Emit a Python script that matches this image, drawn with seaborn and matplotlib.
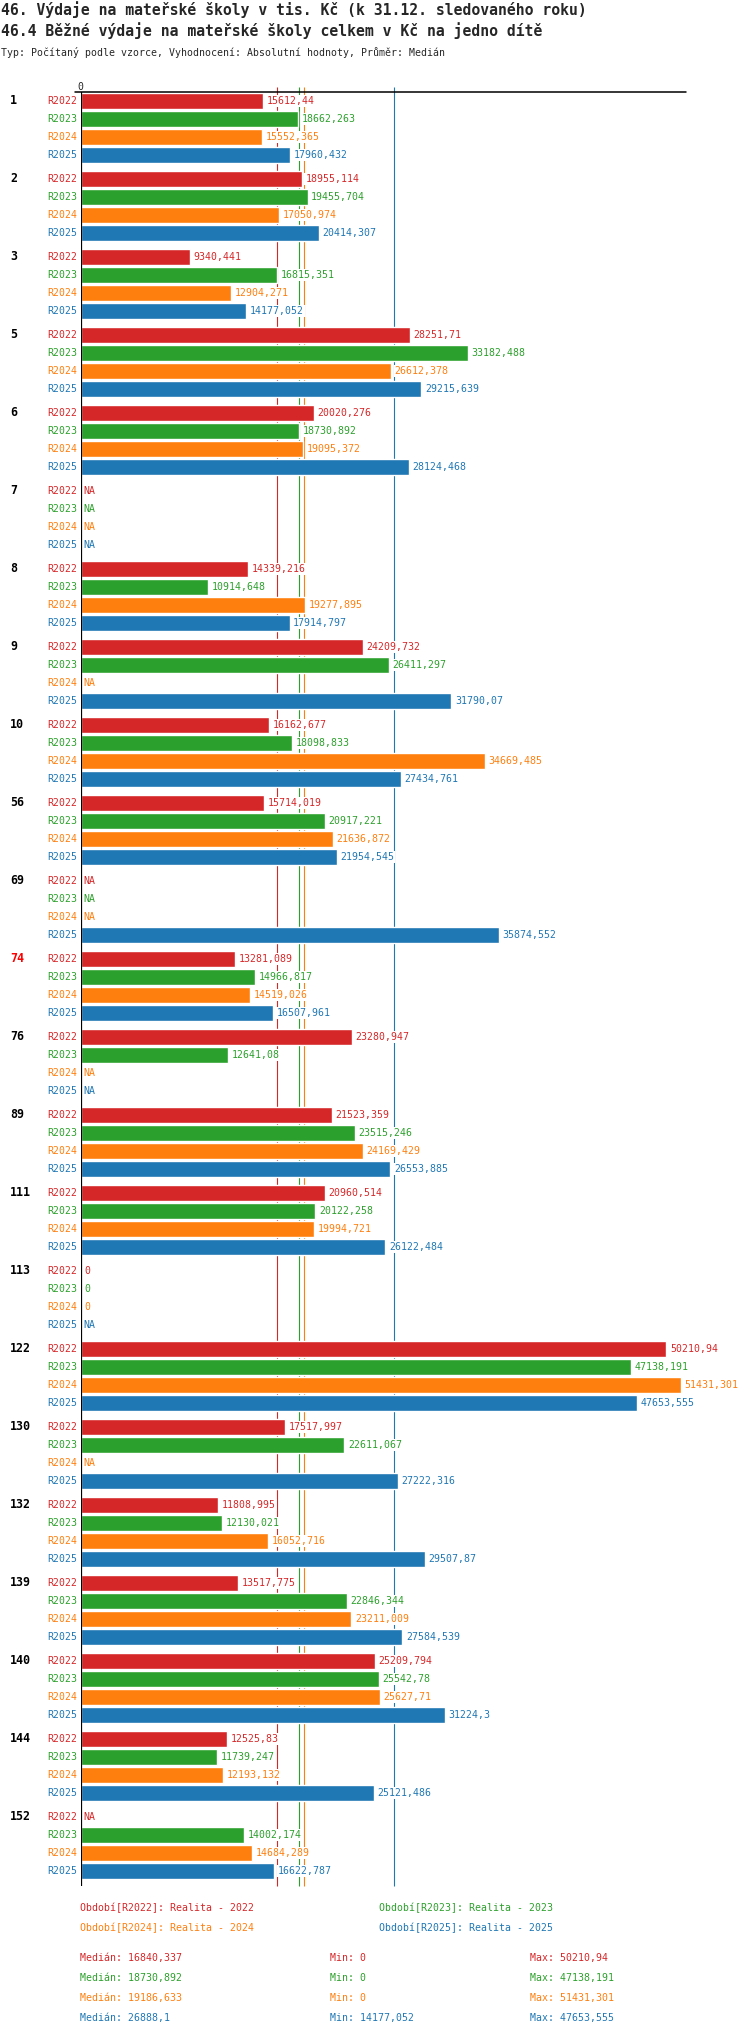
import numpy as np
import pandas as pd
import matplotlib
matplotlib.use("Agg")
import matplotlib.pyplot as plt
import seaborn as sns

nan = np.nan

# school ids (group labels), one block of 4 periods each
groups = ['1', '2', '3', '5', '6', '7', '8', '9', '10', '56', '69', '74', '76', '89',
          '111', '113', '122', '130', '132', '139', '140', '144', '152']
periods = ['R2022', 'R2023', 'R2024', 'R2025']

r2022 = [15612.44, 18955.114, 9340.441, 28251.71, 20020.276, nan, 14339.216, 24209.732,
         16162.677, 15714.019, nan, 13281.089, 23280.947, 21523.359, 20960.514, 0,
         50210.94, 17517.997, 11808.995, 13517.775, 25209.794, 12525.83, nan]
r2023 = [18662.263, 19455.704, 16815.351, 33182.488, 18730.892, nan, 10914.648, 26411.297,
         18098.833, 20917.221, nan, 14966.817, 12641.08, 23515.246, 20122.258, 0,
         47138.191, 22611.067, 12130.021, 22846.344, 25542.78, 11739.247, 14002.174]
r2024 = [15552.365, 17050.974, 12904.271, 26612.378, 19095.372, nan, 19277.895, nan,
         34669.485, 21636.872, nan, 14519.026, nan, 24169.429, 19994.721, 0,
         51431.301, nan, 16052.716, 23211.009, 25627.71, 12193.132, 14684.289]
r2025 = [17960.432, 20414.307, 14177.052, 29215.639, 28124.468, nan, 17914.797, 31790.07,
         27434.761, 21954.545, 35874.552, 16507.961, nan, 26553.885, 26122.484, nan,
         47653.555, 27222.316, 29507.87, 27584.539, 31224.3, 25121.486, 16622.787]

# summary values shown under the chart
medians = [16840.337, 18730.892, 19186.633, 26888.1]
mins = [0, 0, 0, 14177.052]
maxs = [50210.94, 47138.191, 51431.301, 47653.555]

colors = ['#d62728', '#2ca02c', '#ff7f0e', '#1f77b4']
highlight = '74'

series = [r2022, r2023, r2024, r2025]


def fmt(v):
    if np.isnan(v):
        return 'NA'
    s = f"{v:.3f}".rstrip('0').rstrip('.')
    return s.replace('.', ',')


# layout in pixels (1 y-unit == 1 pixel)
ROW = 18
GROUP = 78
rows = []
for gi, g in enumerate(groups):
    for pi, p in enumerate(periods):
        rows.append({'group': g, 'period': p, 'pos': gi * GROUP + pi * ROW,
                     'value': series[pi][gi]})
df = pd.DataFrame(rows)

sns.set_style('white')
plt.rcParams['font.family'] = ['DejaVu Sans Mono', 'DejaVu Sans']

W, H = 750, 2036
fig = plt.figure(figsize=(W / 100, H / 100), dpi=100)
left_px, right_px, top_px, bot_px = 80.5, 686, 91.5, 1886
ax = fig.add_axes([left_px / W, 1 - bot_px / H, (right_px - left_px) / W, (bot_px - top_px) / H])

sns.barplot(data=df, x='value', y='pos', hue='period', orient='y', native_scale=True,
            dodge=False, width=16 / 18, palette=dict(zip(periods, colors)),
            errorbar=None, legend=False, saturation=1, ax=ax, zorder=2)

ymin, ymax = -9.2, 1785.3
ax.set_ylim(ymax, ymin)
ax.set_xlim(0, 51885)
ax.set_xticks([])
ax.set_yticks([])
ax.set_xlabel('')
ax.set_ylabel('')
for s in ax.spines.values():
    s.set_visible(False)

# median lines behind bars
for m, c in zip(medians, colors):
    ax.vlines(m, ymin - 4.5, ymax, color=c, lw=0.8, zorder=0.5, clip_on=False)

ax.axvline(0, color='black', lw=1.6, zorder=4)
ax.plot([(75 - left_px) / (right_px - left_px), 1], [1, 1], color='black', lw=1.1,
        transform=ax.transAxes, clip_on=False, zorder=4)
ax.text(0, 1.0, '0', transform=ax.transAxes, ha='center', va='bottom', fontsize=7.1)

ytr = ax.get_yaxis_transform()
axw = right_px - left_px
for gi, g in enumerate(groups):
    y0 = gi * GROUP
    ax.text((10 - left_px) / axw, y0, g, transform=ytr, ha='left', va='center',
            fontsize=8.4, fontweight='bold', color='red' if g == highlight else 'black')
    for pi, p in enumerate(periods):
        y = y0 + pi * ROW
        v = series[pi][gi]
        ax.text((77.5 - left_px) / axw, y, p, transform=ytr, ha='right', va='center',
                fontsize=7.1, color=colors[pi])
        if np.isnan(v):
            ax.annotate('NA', xy=(0, y), xytext=(2.4, 0), textcoords='offset points',
                        ha='left', va='center', fontsize=7.1, color=colors[pi], zorder=5)
        else:
            ax.annotate(fmt(v), xy=(v, y), xytext=(2.6, 0), textcoords='offset points',
                        ha='left', va='center', fontsize=7.1, color=colors[pi], zorder=5,
                        bbox=dict(boxstyle='square,pad=0.1', fc='white', ec='none'))

# titles
fig.text(1 / W, 1 - 10 / H, '46. Výdaje na mateřské školy v tis. Kč (k 31.12. sledovaného roku)',
         ha='left', va='center', fontsize=10.6, fontweight='bold')
fig.text(1 / W, 1 - 31 / H, '46.4 Běžné výdaje na mateřské školy celkem v Kč na jedno dítě',
         ha='left', va='center', fontsize=10.6, fontweight='bold')
fig.text(1 / W, 1 - 52 / H, 'Typ: Počítaný podle vzorce, Vyhodnocení: Absolutní hodnoty, Průměr: Medián',
         ha='left', va='center', fontsize=7.1)

# legend
leg_pos = [(80, 1908), (379, 1908), (80, 1928), (379, 1928)]
for (x, y), p, c in zip(leg_pos, periods, colors):
    fig.text(x / W, 1 - y / H, f'Období[{p}]: Realita - {p[1:]}', ha='left', va='center',
             fontsize=7.1, color=c)

for i, c in enumerate(colors):
    y = 1 - (1958 + 20 * i) / H
    fig.text(80 / W, y, f'Medián: {fmt(medians[i])}', ha='left', va='center', fontsize=7.1, color=c)
    fig.text(330 / W, y, f'Min: {fmt(mins[i])}', ha='left', va='center', fontsize=7.1, color=c)
    fig.text(530 / W, y, f'Max: {fmt(maxs[i])}', ha='left', va='center', fontsize=7.1, color=c)

fig.savefig('out.png', dpi=100, facecolor='white')
